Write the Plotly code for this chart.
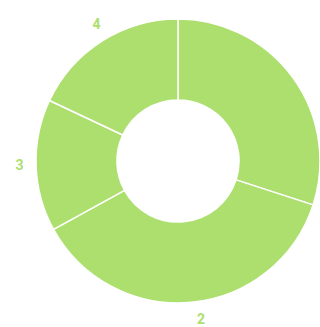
import plotly.graph_objects as go
import numpy as np

labels = ["1", "2", "3", "4"]
values = [30, 37, 15, 18]
label_visible = [False, True, True, True]

W, H = 320, 327
green = "#addf6f"

# pie geometry (pixels)
cx, cy, R = 178, 161, 142
hole = 0.43
# label ring geometry (pixels)
lcx, lrx, lry = 185.5, 166, 160.5

dom = dict(x=[(cx - R) / W, (cx + R) / W], y=[(H - cy - R) / H, (H - cy + R) / H])

fig = go.Figure()
fig.add_trace(go.Pie(
    labels=labels,
    values=values,
    hole=hole,
    sort=False,
    direction="clockwise",
    rotation=0,
    marker=dict(colors=[green] * len(values), line=dict(color="white", width=1.5)),
    textinfo="none",
    domain=dom,
    showlegend=False,
    hoverinfo="label+percent",
))

vals = np.array(values, dtype=float)
frac = vals / vals.sum()
mid_deg = (np.cumsum(frac) - frac / 2) * 360
mid_rad = np.deg2rad(mid_deg)
lx = lrx * np.sin(mid_rad)
ly = lry * np.cos(mid_rad)
keep = np.array(label_visible)

fig.add_trace(go.Scatter(
    x=lx[keep],
    y=ly[keep],
    text=[l for l, k in zip(labels, label_visible) if k],
    mode="text",
    textposition="middle center",
    textfont=dict(color=green, size=14, family="Roboto", weight="bold"),
    cliponaxis=False,
    showlegend=False,
    hoverinfo="skip",
))

fig.update_layout(
    width=W, height=H,
    margin=dict(l=0, r=0, t=0, b=0),
    paper_bgcolor="white",
    plot_bgcolor="rgba(0,0,0,0)",
    xaxis=dict(range=[-lcx, W - lcx], visible=False, fixedrange=True),
    yaxis=dict(range=[-(H - cy), cy], visible=False, fixedrange=True),
)

fig.write_html("out.html")
